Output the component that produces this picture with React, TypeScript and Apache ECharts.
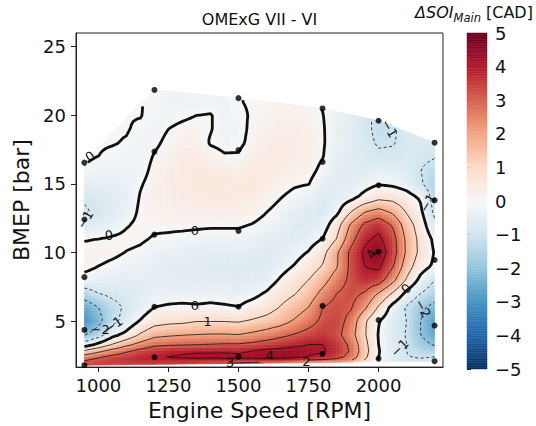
import React, { useEffect, useRef } from "react";
import * as echarts from "echarts";

const FONT = "DejaVu Sans";

// Grid of the map: engine speed columns [RPM] and BMEP rows [bar]
const rpmGrid = [950, 1000, 1050, 1100, 1150, 1200, 1250, 1300, 1350, 1400, 1450, 1500, 1550, 1600, 1650, 1700, 1750, 1800, 1850, 1900, 1950, 2000, 2050, 2100, 2150, 2200];
const bmepGrid = [1.7, 2.3, 2.8, 3.3, 4, 5, 6, 7, 8, 9, 10, 11, 12, 13, 14, 15, 16, 17, 18, 19, 20, 21, 22];

// ΔSOI_Main [CAD], one row per BMEP value, one column per RPM value
const deltaSoiGrid = [
  [3.6, 3.6, 3.5, 3.4, 3.3, 3.2, 3.0, 2.9, 2.7, 2.5, 2.3, 2.2, 1.9, 1.5, 1.2, 0.8, 0.3, 0.3, 0.5, 0.6, 0.3, -0.3, -0.5, -0.7, -0.65, -0.6],
  [2.7, 3.1, 3.4, 3.6, 3.8, 3.95, 4.05, 4.1, 4.15, 4.15, 4.2, 4.2, 4.25, 4.3, 4.3, 4.2, 3.9, 3.7, 3.3, 2.6, 1.2, 0.0, -0.55, -0.95, -1.0, -0.9],
  [1.2, 1.8, 2.4, 2.9, 3.3, 3.65, 3.8, 3.9, 3.95, 3.95, 3.95, 3.9, 4.05, 4.2, 4.3, 4.3, 4.2, 4.1, 3.7, 2.9, 1.4, 0.05, -0.6, -1.0, -1.4, -1.5],
  [-0.6, 0.2, 1.0, 1.7, 2.3, 2.75, 2.85, 2.9, 2.95, 3.0, 3.05, 3.05, 3.2, 3.4, 3.6, 3.8, 4.0, 4.0, 3.6, 2.8, 1.3, 0.0, -0.6, -1.0, -1.7, -2.1],
  [-2.1, -1.5, -0.3, 0.25, 1.1, 1.7, 1.85, 1.95, 2.0, 2.05, 2.05, 2.0, 2.2, 2.45, 2.75, 3.05, 3.35, 3.6, 3.3, 2.4, 1.1, -0.05, -0.6, -1.05, -2.0, -2.6],
  [-3.0, -2.3, -1.3, -0.65, 0.05, 0.6, 0.75, 0.8, 0.95, 0.95, 0.95, 0.9, 1.1, 1.3, 1.6, 2.1, 2.6, 3.2, 3.4, 2.7, 1.15, 0.05, -0.6, -1.0, -2.0, -2.7],
  [-2.6, -2.0, -1.3, -0.85, -0.45, 0.0, 0.1, 0.15, 0.1, 0.15, 0.1, 0.02, 0.35, 0.6, 1.05, 1.5, 2.0, 3.0, 3.3, 3.1, 2.2, 0.9, -0.3, -1.1, -1.8, -2.3],
  [-1.5, -1.0, -0.8, -0.7, -0.55, -0.35, -0.35, -0.35, -0.35, -0.3, -0.35, -0.4, -0.25, 0.1, 0.6, 0.95, 1.4, 2.3, 3.0, 3.3, 2.9, 1.9, 0.9, -0.25, -1.0, -1.5],
  [-0.25, -0.35, -0.45, -0.5, -0.5, -0.45, -0.5, -0.5, -0.55, -0.55, -0.55, -0.6, -0.55, -0.45, 0.1, 0.6, 1.0, 1.6, 2.5, 3.2, 3.7, 3.5, 2.3, 0.9, -0.25, -1.0],
  [0.2, 0.0, -0.15, -0.3, -0.35, -0.42, -0.5, -0.55, -0.55, -0.6, -0.6, -0.62, -0.65, -0.65, -0.35, 0.05, 0.5, 1.05, 1.9, 3.2, 4.0, 4.2, 3.1, 1.5, 0.4, -0.15],
  [0.2, 0.25, 0.15, -0.02, -0.1, -0.3, -0.35, -0.4, -0.45, -0.5, -0.5, -0.5, -0.55, -0.6, -0.55, -0.3, 0.05, 0.7, 1.85, 3.2, 4.15, 4.6, 3.5, 1.85, 0.75, -0.05],
  [-0.05, 0.0, 0.08, 0.15, 0.08, -0.05, -0.1, -0.15, -0.2, -0.25, -0.25, -0.25, -0.35, -0.45, -0.55, -0.6, -0.4, 0.0, 1.0, 2.6, 3.8, 4.2, 3.4, 1.8, 0.7, -0.2],
  [-0.7, -0.5, -0.35, -0.05, 0.15, 0.1, 0.12, 0.12, 0.1, 0.08, 0.08, 0.08, -0.03, -0.2, -0.4, -0.6, -0.65, -0.45, 0.55, 2.1, 3.2, 3.7, 2.9, 1.5, 0.5, -0.8],
  [-1.1, -0.85, -0.6, -0.35, 0.12, 0.2, 0.25, 0.28, 0.3, 0.3, 0.3, 0.3, 0.25, 0.02, -0.2, -0.45, -0.6, -0.7, -0.25, 0.9, 1.9, 2.3, 1.8, 0.9, 0.15, -1.2],
  [-0.9, -0.75, -0.55, -0.45, 0.05, 0.25, 0.32, 0.38, 0.42, 0.45, 0.45, 0.45, 0.42, 0.25, 0.02, -0.2, -0.35, -0.65, -0.5, -0.25, 0.25, 0.75, 0.7, 0.35, -0.1, -1.4],
  [-0.5, -0.45, -0.4, -0.35, -0.05, 0.22, 0.35, 0.42, 0.48, 0.52, 0.5, 0.5, 0.5, 0.4, 0.25, 0.08, 0.02, -0.4, -0.55, -0.5, -0.3, -0.05, -0.15, -0.35, -0.9, -1.5],
  [-0.05, -0.25, -0.25, -0.25, -0.2, 0.15, 0.32, 0.42, 0.48, 0.45, 0.38, 0.35, 0.45, 0.45, 0.4, 0.3, 0.2, -0.15, -0.5, -0.6, -0.55, -0.45, -0.5, -0.65, -1.0, -1.3],
  [0.1, 0.0, -0.1, -0.15, -0.25, 0.04, 0.25, 0.38, 0.42, 0.22, 0.05, 0.05, 0.35, 0.42, 0.45, 0.38, 0.28, 0.03, -0.4, -0.55, -0.65, -0.85, -0.85, -0.7, -0.8, -0.95],
  [0.1, 0.05, 0.03, -0.03, -0.2, -0.1, 0.12, 0.25, 0.3, -0.05, -0.15, -0.12, 0.15, 0.35, 0.42, 0.38, 0.28, 0.07, -0.35, -0.5, -0.75, -1.1, -1.05, -0.8, -0.7, -0.75],
  [0.1, 0.05, 0.03, 0.03, -0.08, -0.18, 0.0, 0.1, 0.15, 0.03, -0.2, -0.15, 0.1, 0.25, 0.35, 0.32, 0.25, 0.06, -0.35, -0.5, -0.8, -1.2, -1.1, -0.75, -0.6, -0.6],
  [0.1, 0.05, 0.03, 0.02, 0.02, -0.15, -0.15, -0.08, 0.0, 0.03, -0.2, -0.1, 0.05, 0.15, 0.25, 0.25, 0.18, 0.02, -0.3, -0.5, -0.8, -1.2, -1.1, -0.75, -0.6, -0.6],
  [0.1, 0.05, 0.03, 0.02, 0.02, -0.08, -0.2, -0.25, -0.25, -0.2, -0.2, -0.02, 0.05, 0.08, 0.15, 0.15, 0.1, -0.05, -0.3, -0.5, -0.8, -1.2, -1.1, -0.75, -0.6, -0.6],
  [0.1, 0.05, 0.03, 0.02, 0.02, 0.0, -0.15, -0.2, -0.25, -0.25, -0.2, -0.02, 0.05, 0.05, 0.05, 0.05, 0.05, -0.05, -0.3, -0.5, -0.8, -1.2, -1.1, -0.75, -0.6, -0.6],
];

// Measured operating points (black dots)
const pointRpm = [950, 950, 950, 950, 950, 1200, 1200, 1200, 1200, 1200, 1500, 1500, 1500, 1500, 1500, 1800, 1800, 1800, 1800, 1800, 2000, 2000, 2000, 2000, 2000, 2200, 2200, 2200, 2200, 2200];
const pointBmep = [1.78, 4.35, 8.2, 12.4, 16.55, 2.36, 6.04, 11.3, 17.35, 21.85, 2.4, 6.04, 11.57, 17.47, 21.25, 2.6, 6.1, 11.0, 16.6, 20.5, 2.26, 5.07, 10.05, 14.9, 19.6, 2.07, 4.67, 9.45, 13.8, 18.0];

const contourLevels = [-3, -2, -1, 0, 1, 2, 3, 4];
// contour labels: rpm, bmep, text, angle
const contourLabelRpm = [970, 1038, 1344, 1344, 2099, 1390, 2039, 2175, 2158, 2075, 1006, 1053, 953, 1974, 1612, 1470, 1742];
const contourLabelBmep = [17.0, 11.25, 11.57, 6.16, 7.36, 5.0, 19.04, 13.6, 5.92, 3.03, 4.35, 4.7, 12.4, 9.9, 2.45, 1.95, 2.05];
const contourLabelText = ["0", "0", "0", "0", "0", "1", "−1", "−1", "−2", "−1", "−2", "−1", "−1", "4", "4", "3", "2"];
const contourLabelAngle = [35, 10, 0, 0, 45, 0, -60, 60, -60, 45, 0, 35, 60, 60, 0, 0, 0];

const xTicks = [1000, 1250, 1500, 1750, 2000];
const yTicks = [5, 10, 15, 20, 25];
const cbarTicks = [-5, -4, -3, -2, -1, 0, 1, 2, 3, 4, 5];

// RdBu_r colours at the colour bar ticks
const rdbuR = ["#053061", "#2166ac", "#4393c3", "#92c5de", "#d1e5f0", "#f7f7f7", "#fddbc7", "#f4a582", "#d6604d", "#b2182b", "#67001f"];

const clamp = (v: number, a: number, b: number) => Math.max(a, Math.min(b, v));
const hex = (h: string) => [parseInt(h.slice(1, 3), 16), parseInt(h.slice(3, 5), 16), parseInt(h.slice(5, 7), 16)];
const rdbuRgb = rdbuR.map(hex);

function colorOf(v: number) {
  const lo = cbarTicks[0], hi = cbarTicks[cbarTicks.length - 1];
  const t = ((clamp(v, lo, hi) - lo) / (hi - lo)) * (rdbuRgb.length - 1);
  const k = Math.min(rdbuRgb.length - 2, Math.floor(t));
  const f = t - k;
  const a = rdbuRgb[k], b = rdbuRgb[k + 1];
  const c = [0, 1, 2].map((i) => Math.round(a[i] + (b[i] - a[i]) * f));
  return `rgb(${c[0]},${c[1]},${c[2]})`;
}

function segIndex(arr: number[], v: number) {
  for (let i = 0; i < arr.length - 2; i++) if (v <= arr[i + 1]) return i;
  return arr.length - 2;
}

function field(x: number, y: number) {
  const i = segIndex(rpmGrid, x), j = segIndex(bmepGrid, y);
  const tx = clamp((x - rpmGrid[i]) / (rpmGrid[i + 1] - rpmGrid[i]), 0, 1);
  const ty = clamp((y - bmepGrid[j]) / (bmepGrid[j + 1] - bmepGrid[j]), 0, 1);
  const z00 = deltaSoiGrid[j][i], z10 = deltaSoiGrid[j][i + 1];
  const z01 = deltaSoiGrid[j + 1][i], z11 = deltaSoiGrid[j + 1][i + 1];
  const b = z00 + (z10 - z00) * tx;
  const t = z01 + (z11 - z01) * tx;
  return b + (t - b) * ty;
}

// convex hull of measured points (the map is only drawn inside it)
type P = [number, number];
function hullChains() {
  const pts: P[] = pointRpm.map((x, k) => [x, pointBmep[k]] as P).sort((a, b) => a[0] - b[0] || a[1] - b[1]);
  const cross = (o: P, a: P, b: P) => (a[0] - o[0]) * (b[1] - o[1]) - (a[1] - o[1]) * (b[0] - o[0]);
  const lower: P[] = [];
  for (const p of pts) {
    while (lower.length >= 2 && cross(lower[lower.length - 2], lower[lower.length - 1], p) <= 0) lower.pop();
    lower.push(p);
  }
  const upper: P[] = [];
  for (let k = pts.length - 1; k >= 0; k--) {
    const p = pts[k];
    while (upper.length >= 2 && cross(upper[upper.length - 2], upper[upper.length - 1], p) <= 0) upper.pop();
    upper.push(p);
  }
  return { lower, upper };
}
const HULL = hullChains();
function edgeAt(chain: P[], x: number, useMax: boolean) {
  let best = useMax ? -Infinity : Infinity;
  for (let k = 0; k < chain.length - 1; k++) {
    const a = chain[k], b = chain[k + 1];
    const lo = Math.min(a[0], b[0]), hi = Math.max(a[0], b[0]);
    if (x < lo - 1e-9 || x > hi + 1e-9) continue;
    let y: number;
    if (hi - lo < 1e-9) y = useMax ? Math.max(a[1], b[1]) : Math.min(a[1], b[1]);
    else y = a[1] + ((b[1] - a[1]) * (x - a[0])) / (b[0] - a[0]);
    best = useMax ? Math.max(best, y) : Math.min(best, y);
  }
  return best;
}
const hullTop = (x: number) => edgeAt(HULL.upper, x, true);
const hullBot = (x: number) => edgeAt(HULL.lower, x, false);

const NX = 100, NY = 90;
const X0 = rpmGrid[0], X1 = rpmGrid[rpmGrid.length - 1];
const Y0 = bmepGrid[0], Y1 = bmepGrid[bmepGrid.length - 1];
const xsF = Array.from({ length: NX + 1 }, (_, i) => X0 + ((X1 - X0) * i) / NX);
const ysF = Array.from({ length: NY + 1 }, (_, j) => Y0 + ((Y1 - Y0) * j) / NY);

function buildFill(api: any) {
  const out: any[] = [];
  for (let i = 0; i < NX; i++) {
    const xa = xsF[i], xb = xsF[i + 1];
    const ta = hullTop(xa), tb = hullTop(xb), ba = hullBot(xa), bb = hullBot(xb);
    for (let j = 0; j < NY; j++) {
      const ya = ysF[j], yb = ysF[j + 1];
      const yla = Math.max(ya, ba), ylb = Math.max(ya, bb);
      const yha = Math.min(yb, ta), yhb = Math.min(yb, tb);
      if (yha <= yla && yhb <= ylb) continue;
      const pts = [
        api.coord([xa, yla]),
        api.coord([xb, ylb]),
        api.coord([xb, Math.max(yhb, ylb)]),
        api.coord([xa, Math.max(yha, yla)]),
      ];
      const cy = (Math.max(ya, (ba + bb) / 2) + Math.min(yb, (ta + tb) / 2)) / 2;
      const c = colorOf(field((xa + xb) / 2, cy));
      out.push({ type: "polygon", silent: true, shape: { points: pts }, style: { fill: c, stroke: c, lineWidth: 0.7 } });
    }
  }
  return out;
}

function contourLines(level: number, V: number[][], inside: boolean[][]) {
  type E = { key: string; p: P };
  const segs: [E, E][] = [];
  for (let i = 0; i < NX; i++) {
    for (let j = 0; j < NY; j++) {
      if (!inside[i][j] || !inside[i + 1][j] || !inside[i][j + 1] || !inside[i + 1][j + 1]) continue;
      const a = V[i][j], b = V[i + 1][j], c = V[i + 1][j + 1], d = V[i][j + 1];
      const ea = a > level, eb = b > level, ec = c > level, ed = d > level;
      const e: E[] = [];
      if (ea !== eb) e.push({ key: `h${i}_${j}`, p: [xsF[i] + ((xsF[i + 1] - xsF[i]) * (level - a)) / (b - a), ysF[j]] });
      if (eb !== ec) e.push({ key: `v${i + 1}_${j}`, p: [xsF[i + 1], ysF[j] + ((ysF[j + 1] - ysF[j]) * (level - b)) / (c - b)] });
      if (ed !== ec) e.push({ key: `h${i}_${j + 1}`, p: [xsF[i] + ((xsF[i + 1] - xsF[i]) * (level - d)) / (c - d), ysF[j + 1]] });
      if (ea !== ed) e.push({ key: `v${i}_${j}`, p: [xsF[i], ysF[j] + ((ysF[j + 1] - ysF[j]) * (level - a)) / (d - a)] });
      if (e.length === 2) segs.push([e[0], e[1]]);
      else if (e.length === 4) {
        const center = (a + b + c + d) / 4 > level;
        if (center === ea) {
          segs.push([e[0], e[1]]);
          segs.push([e[2], e[3]]);
        } else {
          segs.push([e[3], e[0]]);
          segs.push([e[1], e[2]]);
        }
      }
    }
  }
  const byKey = new Map<string, number[]>();
  segs.forEach((s, idx) => {
    for (const e of s) {
      if (!byKey.has(e.key)) byKey.set(e.key, []);
      byKey.get(e.key)!.push(idx);
    }
  });
  const used = new Array(segs.length).fill(false);
  const lines: P[][] = [];
  for (let s0 = 0; s0 < segs.length; s0++) {
    if (used[s0]) continue;
    used[s0] = true;
    const line: E[] = [segs[s0][0], segs[s0][1]];
    for (const forward of [true, false]) {
      while (true) {
        const last = forward ? line[line.length - 1] : line[0];
        const cand = (byKey.get(last.key) || []).find((k) => !used[k]);
        if (cand === undefined) break;
        used[cand] = true;
        const s = segs[cand];
        const next = s[0].key === last.key ? s[1] : s[0];
        if (forward) line.push(next);
        else line.unshift(next);
      }
    }
    lines.push(line.map((e) => e.p));
  }
  return lines;
}

function buildContours(api: any) {
  const V: number[][] = [];
  const inside: boolean[][] = [];
  for (let i = 0; i <= NX; i++) {
    V.push([]);
    inside.push([]);
    const t = hullTop(xsF[i]) + 1e-6, b = hullBot(xsF[i]) - 1e-6;
    for (let j = 0; j <= NY; j++) {
      V[i].push(field(xsF[i], ysF[j]));
      inside[i].push(ysF[j] >= b && ysF[j] <= t);
    }
  }
  const out: any[] = [];
  for (const level of contourLevels) {
    const lines = contourLines(level, V, inside);
    for (const ln of lines) {
      if (ln.length < 2) continue;
      out.push({
        type: "polyline",
        silent: true,
        shape: { points: ln.map((p) => api.coord(p)) },
        style: {
          fill: null,
          stroke: "#111",
          lineWidth: level === 0 ? 2.8 : 0.8,
          lineDash: level < 0 ? [3, 2.5] : null,
        },
      });
    }
  }
  contourLabelText.forEach((txt, k) => {
    const p = api.coord([contourLabelRpm[k], contourLabelBmep[k]]);
    out.push({
      type: "text",
      silent: true,
      x: p[0],
      y: p[1],
      rotation: (contourLabelAngle[k] * Math.PI) / 180,
      style: { text: txt, fontSize: 13, fontFamily: FONT, fill: "#111", align: "center", verticalAlign: "middle", textAlign: "center", textVerticalAlign: "middle" },
    });
  });
  return out;
}

function buildColorbar(api: any) {
  const lo = cbarTicks[0], hi = cbarTicks[cbarTicks.length - 1];
  const n = 200;
  const out: any[] = [];
  for (let k = 0; k < n; k++) {
    const va = lo + ((hi - lo) * k) / n;
    const vb = lo + ((hi - lo) * (k + 1)) / n;
    const p0 = api.coord([0, vb]);
    const p1 = api.coord([1, va]);
    const c = colorOf((va + vb) / 2);
    out.push({
      type: "rect",
      silent: true,
      shape: { x: p0[0], y: p0[1], width: p1[0] - p0[0], height: p1[1] - p0[1] },
      style: { fill: c, stroke: c, lineWidth: 0.5 },
    });
  }
  return out;
}

function buildOption() {
  const fmtMinus = (v: number) => (v < 0 ? "\u2212" + Math.abs(v) : String(v));
  const fmtPlain = (v: number) => String(v);
  const axisLineStyle = { color: "#222", width: 1 };
  return {
    animation: false,
    backgroundColor: "#ffffff",
    title: [
      {
        text: "OMExG VII - VI",
        left: 259.5,
        top: 11,
        padding: 0,
        textAlign: "center",
        textStyle: { fontSize: 16, fontWeight: "normal", fontFamily: FONT, color: "#111" },
      },
      {
        text: "{it|ΔSOI}{sub|Main}{n| [CAD]}",
        left: 474,
        top: 0,
        padding: 0,
        textAlign: "center",
        textStyle: {
          fontFamily: FONT,
          fontWeight: "normal",
          color: "#111",
          rich: {
            it: { fontSize: 16, fontStyle: "italic", fontWeight: "normal", fontFamily: FONT, color: "#111", lineHeight: 24, verticalAlign: "middle" },
            sub: { fontSize: 11.5, fontStyle: "italic", fontWeight: "normal", fontFamily: FONT, color: "#111", lineHeight: 12, verticalAlign: "bottom" },
            n: { fontSize: 16, fontWeight: "normal", fontFamily: FONT, color: "#111", lineHeight: 24, verticalAlign: "middle" },
          },
        },
      },
    ],
    grid: [
      { left: 76, top: 33, width: 367, height: 336, show: true, borderColor: "#222", borderWidth: 1, backgroundColor: "transparent" },
      { left: 467, top: 33, width: 20, height: 336, show: false },
    ],
    xAxis: [
      {
        gridIndex: 0,
        type: "value",
        min: 920,
        max: 2230,
        name: "Engine Speed [RPM]",
        nameLocation: "middle",
        nameGap: 28,
        nameTextStyle: { fontSize: 22, fontFamily: FONT, color: "#111" },
        axisLine: { show: true, onZero: false, lineStyle: axisLineStyle },
        axisTick: { show: true, inside: false, length: 5, customValues: xTicks, lineStyle: axisLineStyle },
        axisLabel: { customValues: xTicks, fontSize: 18, fontFamily: FONT, color: "#111", margin: 9, formatter: fmtPlain },
        splitLine: { show: false },
      },
      { gridIndex: 1, type: "value", min: 0, max: 1, show: false },
    ],
    yAxis: [
      {
        gridIndex: 0,
        type: "value",
        min: 1.64,
        max: 26.0,
        name: "BMEP [bar]",
        nameLocation: "middle",
        nameGap: 40,
        nameTextStyle: { fontSize: 22, fontFamily: FONT, color: "#111" },
        axisLine: { show: true, onZero: false, lineStyle: axisLineStyle },
        axisTick: { show: true, inside: false, length: 5, customValues: yTicks, lineStyle: axisLineStyle },
        axisLabel: { customValues: yTicks, fontSize: 18, fontFamily: FONT, color: "#111", margin: 10, formatter: fmtPlain },
        splitLine: { show: false },
      },
      {
        gridIndex: 1,
        type: "value",
        position: "right",
        min: -5,
        max: 5,
        interval: 1,
        axisLine: { show: false },
        axisTick: { show: true, inside: false, length: 4, lineStyle: axisLineStyle },
        axisLabel: { fontSize: 18, fontFamily: FONT, color: "#111", margin: 8, formatter: fmtMinus },
        splitLine: { show: false },
      },
    ],
    series: [
      {
        type: "custom",
        xAxisIndex: 0,
        yAxisIndex: 0,
        z: 1,
        silent: true,
        clip: true,
        data: [[rpmGrid[0], bmepGrid[0]]],
        renderItem: (_p: any, api: any) => ({ type: "group", children: buildFill(api) }),
      },
      {
        type: "custom",
        xAxisIndex: 0,
        yAxisIndex: 0,
        z: 2,
        silent: true,
        clip: true,
        data: [[rpmGrid[0], bmepGrid[0]]],
        renderItem: (_p: any, api: any) => ({ type: "group", children: buildContours(api) }),
      },
      {
        type: "scatter",
        xAxisIndex: 0,
        yAxisIndex: 0,
        z: 3,
        silent: true,
        symbolSize: 6,
        itemStyle: { color: "#000" },
        data: pointRpm.map((x, k) => [x, pointBmep[k]]),
      },
      {
        type: "custom",
        xAxisIndex: 1,
        yAxisIndex: 1,
        z: 1,
        silent: true,
        data: [[0, cbarTicks[0]]],
        renderItem: (_p: any, api: any) => ({ type: "group", children: buildColorbar(api) }),
      },
    ],
  };
}

export default function App() {
  const ref = useRef<HTMLDivElement>(null);
  useEffect(() => {
    document.body.style.margin = "0";
    const chart = echarts.init(ref.current!, null, { renderer: "svg" });
    chart.setOption(buildOption() as any);
    return () => chart.dispose();
  }, []);
  return <div ref={ref} style={{ width: 536, height: 426 }} />;
}
